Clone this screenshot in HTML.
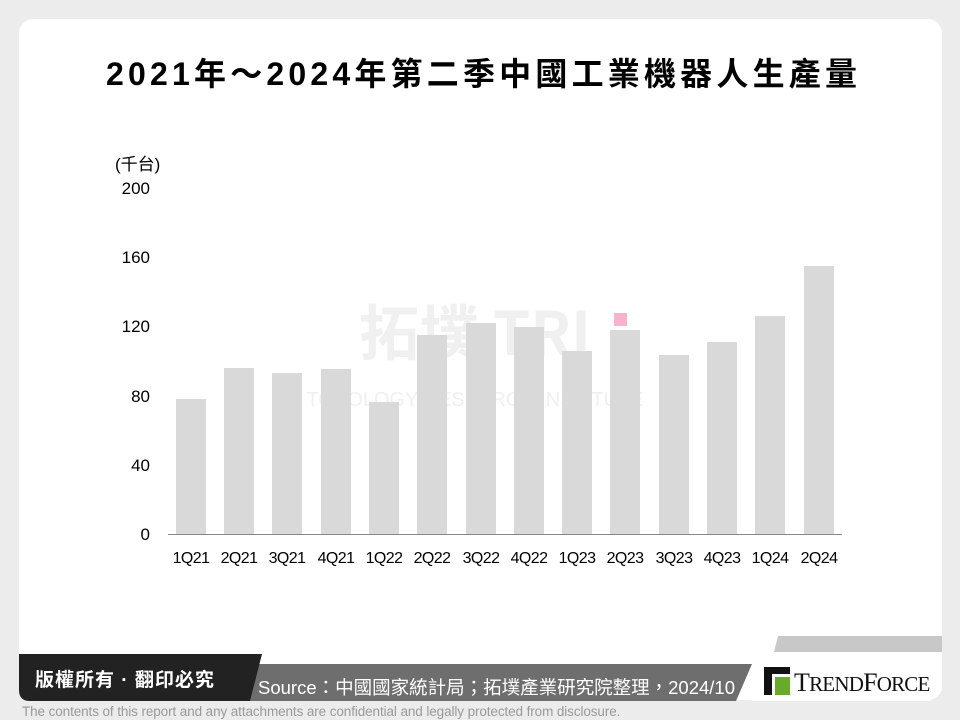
<!DOCTYPE html>
<html><head><meta charset="utf-8"><style>
body{margin:0;width:960px;height:720px;background:#ececec;position:relative;overflow:hidden;font-family:"Liberation Sans","Noto Sans CJK TC",sans-serif}
.card{position:absolute;left:19px;top:19px;width:923px;height:681px;background:#fff;border-radius:14px}
.t{position:absolute;font-family:"Liberation Sans","Noto Sans CJK TC",sans-serif;white-space:nowrap}
</style></head><body>
<div class="card"></div>
<div class="t" style="left:106px;top:49px;font-size:32px;font-weight:bold;letter-spacing:4.2px;color:#000">2021年～2024年第二季中國工業機器人生產量</div>
<svg width="960" height="720" style="position:absolute;left:0;top:0">
<g font-family="Liberation Sans, Noto Sans CJK TC, sans-serif" font-size="17" fill="#000">
<text x="115" y="170">(千台)</text>
<text x="150" y="194" text-anchor="end">200</text>
<text x="150" y="263" text-anchor="end">160</text>
<text x="150" y="332" text-anchor="end">120</text>
<text x="150" y="402" text-anchor="end">80</text>
<text x="150" y="471" text-anchor="end">40</text>
<text x="150" y="540" text-anchor="end">0</text>
</g>
<text x="475" y="355" font-size="60" font-weight="bold" fill="#f0f0f0" text-anchor="middle" font-family="Noto Sans CJK TC, sans-serif">拓墣 TRI</text>
<text x="475" y="406" font-size="20" fill="#f0f0f0" text-anchor="middle">TOPOLOGY RESEARCH INSTITUTE</text>
<g fill="#d9d9d9">
<rect x="176" y="399" width="30" height="135"/>
<rect x="224" y="368" width="30" height="166"/>
<rect x="272" y="373" width="30" height="161"/>
<rect x="321" y="369" width="30" height="165"/>
<rect x="369" y="402" width="30" height="132"/>
<rect x="417" y="335" width="30" height="199"/>
<rect x="466" y="323" width="30" height="211"/>
<rect x="514" y="327" width="30" height="207"/>
<rect x="562" y="351" width="30" height="183"/>
<rect x="610" y="330" width="30" height="204"/>
<rect x="659" y="355" width="30" height="179"/>
<rect x="707" y="342" width="30" height="192"/>
<rect x="755" y="316" width="30" height="218"/>
<rect x="804" y="266" width="30" height="268"/>
</g>
<rect x="614" y="313" width="13" height="13" fill="#f7b3cc"/>
<line x1="168" y1="534.5" x2="842" y2="534.5" stroke="#888" stroke-width="1"/>
<g font-family="Liberation Sans, sans-serif" font-size="16" fill="#000" text-anchor="middle" letter-spacing="-0.6">
<text x="191" y="563">1Q21</text><text x="239" y="563">2Q21</text><text x="287" y="563">3Q21</text><text x="336" y="563">4Q21</text>
<text x="384" y="563">1Q22</text><text x="432" y="563">2Q22</text><text x="481" y="563">3Q22</text><text x="529" y="563">4Q22</text>
<text x="577" y="563">1Q23</text><text x="625" y="563">2Q23</text><text x="674" y="563">3Q23</text><text x="722" y="563">4Q23</text>
<text x="770" y="563">1Q24</text><text x="819" y="563">2Q24</text>
</g>
<polygon points="778,636 942,636 942,652 774,652" fill="#c8c8c8"/>
<polygon points="250,664 752,664 736,701 242,701" fill="#6e6e6e"/>
<path d="M19,654 L262,654 L250,701 L30,701 Q19,701 19,690 Z" fill="#222"/>
<polygon points="772,652 942,652 942,690 930,701 752,701" fill="#fff"/>
</svg>
<div class="t" style="left:35px;top:665px;font-size:19px;font-weight:bold;color:#fff;letter-spacing:1px">版權所有 · 翻印必究</div>
<div class="t" style="left:258px;top:674px;font-size:18.5px;color:#fff">Source：中國國家統計局；拓墣產業研究院整理，2024/10</div>
<div class="t" style="left:764px;top:667px;width:26px;height:28px">
<div style="position:absolute;left:0;top:0;width:26px;height:7px;background:#111"></div>
<div style="position:absolute;left:0;top:0;width:8px;height:28px;background:#111"></div>
<div style="position:absolute;left:11px;top:10px;width:15px;height:18px;background:#6aaa2a"></div>
</div>
<div class="t" style="left:794px;top:668px;font-size:26px;font-family:'Liberation Serif',serif;color:#111;letter-spacing:-0.8px">T<span style="font-size:21px">REND</span>F<span style="font-size:21px">ORCE</span></div>
<div class="t" style="left:22px;top:704px;font-size:13.5px;color:#999;letter-spacing:-0.1px">The contents of this report and any attachments are confidential and legally protected from disclosure.</div>
</body></html>
